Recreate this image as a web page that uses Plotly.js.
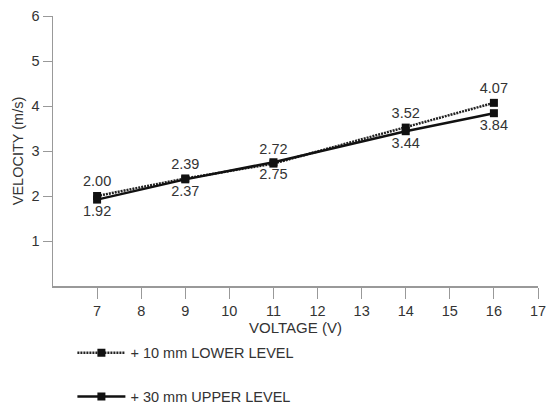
<!DOCTYPE html>
<html><head><meta charset="utf-8">
<script src="https://cdn.plot.ly/plotly-3.0.1.min.js"></script>
<style>html,body{margin:0;padding:0;background:#fff}#chart{width:555px;height:407px}</style>
</head><body><div id="chart"></div>
<script>
const voltage = [7, 9, 11, 14, 16];
const lowerLevel = [2.00, 2.39, 2.72, 3.52, 4.07];
const upperLevel = [1.92, 2.37, 2.75, 3.44, 3.84];
const lowerName = '+ 10 mm LOWER LEVEL';
const upperName = '+ 30 mm UPPER LEVEL';
const xTicks = [7, 8, 9, 10, 11, 12, 13, 14, 15, 16, 17];
const yTicks = [1, 2, 3, 4, 5, 6];

const font = 'Arial, "Liberation Sans", sans-serif';
const fs = 14.5;
const traces = [
  {x: voltage, y: lowerLevel, name: lowerName, mode: 'lines+markers+text', legendgroup: 'a',
   text: lowerLevel.map(v => v.toFixed(2)), textposition: 'top center',
   textfont: {size: fs, color: '#333', family: font},
   line: {color: '#222', width: 2.5, dash: '2px,1px'}, marker: {symbol: 'square', size: 8, color: '#111'}},
  {x: voltage, y: upperLevel, name: upperName, mode: 'lines+markers+text', legendgroup: 'b',
   text: upperLevel.map(v => v.toFixed(2)), textposition: 'bottom center',
   textfont: {size: fs, color: '#333', family: font},
   line: {color: '#111', width: 2.5}, marker: {symbol: 'square', size: 8, color: '#111'}}
];
const layout = {
  width: 555, height: 407,
  margin: {l: 53, r: 17, t: 16, b: 121, autoexpand: false},
  paper_bgcolor: '#fff', plot_bgcolor: '#fff',
  font: {family: font, size: fs, color: '#333'},
  showlegend: true,
  legend: {x: 0.04, y: -0.188, xanchor: 'left', yanchor: 'top', traceorder: 'grouped',
           tracegroupgap: 22, itemwidth: 48, font: {size: fs, color: '#333'}, bgcolor: 'rgba(0,0,0,0)'},
  xaxis: {range: [6, 17], tickvals: xTicks, ticks: 'outside', ticklen: 11, tickcolor: '#999',
          showline: true, linecolor: '#999', linewidth: 1.5, showgrid: false, zeroline: false,
          title: {text: 'VOLTAGE (V)', font: {size: 15, color: '#333'}, standoff: 2},
          tickfont: {size: fs, color: '#333'}},
  yaxis: {range: [0, 6], tickvals: yTicks, ticks: 'outside', ticklen: 9, tickcolor: '#999',
          showline: true, linecolor: '#999', linewidth: 1.5, showgrid: false, zeroline: false,
          title: {text: 'VELOCITY (m/s)', font: {size: fs, color: '#333'}, standoff: 4},
          tickfont: {size: fs, color: '#333'}}
};
Plotly.newPlot('chart', traces, layout, {displayModeBar: false, staticPlot: true});
</script></body></html>
